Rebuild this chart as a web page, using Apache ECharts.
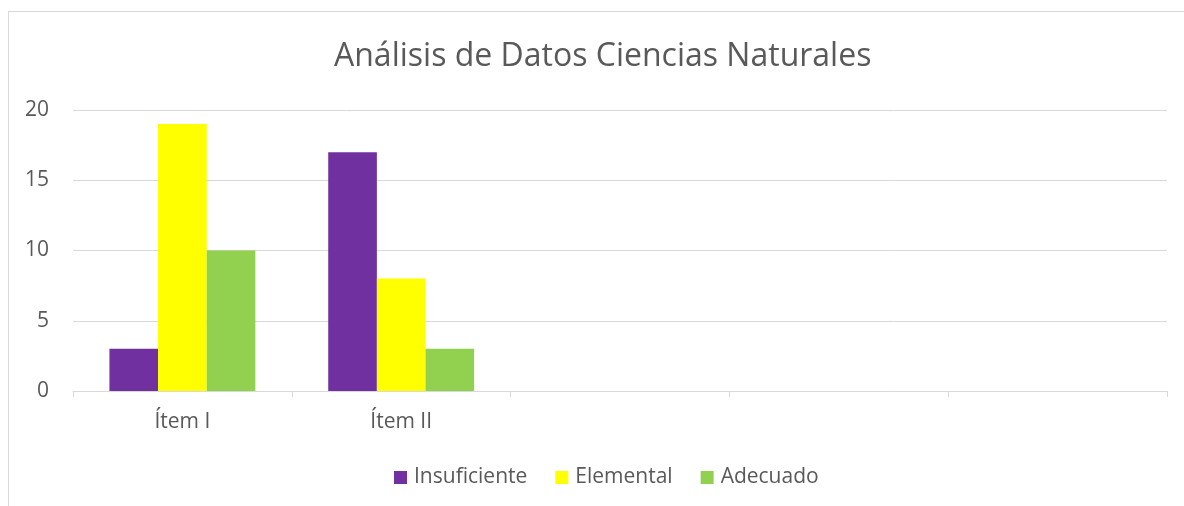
<!DOCTYPE html>
<html>
<head>
<meta charset="utf-8">
<script src="https://cdn.jsdelivr.net/npm/echarts@6/dist/echarts.min.js"></script>
<style>
html, body { margin: 0; padding: 0; background: #fff; overflow: hidden; }
.frame {
  position: absolute; left: 8px; top: 11px; width: 1300px; height: 600px;
  border: 1px solid #d9d9d9; box-sizing: border-box;
}
#chart { position: absolute; left: 0; top: 0; width: 1184px; height: 506px; }
</style>
</head>
<body>
<div class="frame"></div>
<div id="chart"></div>
<script>
// categorias del eje x (las tres ultimas vacias, como en el original)
var categories = ['Ítem I', 'Ítem II', '', '', '']
var insuficiente = [3, 17, null, null, null]
var elemental = [19, 8, null, null, null]
var adecuado = [10, 3, null, null, null]

var textColor = '#595959'
var lineColor = '#d9d9d9'

var option = {
  backgroundColor: 'transparent',
  animation: false,
  title: {
    text: 'Análisis de Datos Ciencias Naturales',
    left: 329,
    top: 36,
    textStyle: {
      color: textColor,
      fontFamily: 'Open Sans',
      fontSize: 32,
      fontWeight: 'normal'
    }
  },
  legend: {
    bottom: 13,
    left: 389,
    itemWidth: 13,
    itemHeight: 13,
    itemGap: 28,
    icon: 'rect',
    textStyle: {
      color: textColor,
      fontFamily: 'Open Sans',
      fontSize: 21,
      padding: [0, 0, 0, 2]
    }
  },
  grid: {
    left: 73,
    right: 17,
    top: 110,
    bottom: 115,
    containLabel: false,
    outerBoundsMode: 'none'
  },
  xAxis: {
    type: 'category',
    data: categories,
    axisLine: { lineStyle: { color: lineColor, width: 1 } },
    axisTick: { show: true, length: 6, lineStyle: { color: lineColor } },
    axisLabel: {
      color: textColor,
      fontFamily: 'Open Sans',
      fontSize: 21,
      margin: 21
    }
  },
  yAxis: {
    type: 'value',
    min: 0,
    max: 20,
    interval: 5,
    axisLine: { show: false },
    axisTick: { show: false },
    axisLabel: {
      color: textColor,
      fontFamily: 'Open Sans',
      fontSize: 21,
      margin: 24
    },
    splitLine: { lineStyle: { color: lineColor, width: 1 } }
  },
  series: [
    {
      name: 'Insuficiente',
      type: 'bar',
      data: insuficiente,
      barGap: '0%',
      barCategoryGap: '33.3%',
      itemStyle: { color: '#7030A0' }
    },
    {
      name: 'Elemental',
      type: 'bar',
      data: elemental,
      itemStyle: { color: '#FFFF00' }
    },
    {
      name: 'Adecuado',
      type: 'bar',
      data: adecuado,
      itemStyle: { color: '#92D050' }
    }
  ]
}

var myChart = echarts.init(document.getElementById('chart'))
myChart.setOption(option)
</script>
</body>
</html>
